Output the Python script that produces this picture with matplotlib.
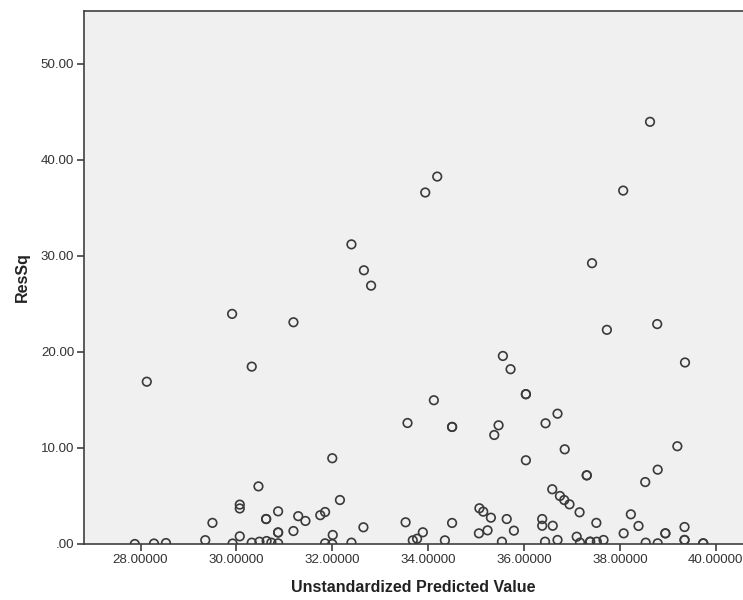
import numpy as np
import matplotlib
matplotlib.use('Agg')
import matplotlib.pyplot as plt
from matplotlib.ticker import FuncFormatter


# predicted values (x) and squared residuals (y)
pred_value = [27.88, 28.28, 28.53, 28.13, 29.35, 29.50, 29.92, 29.91, 30.07, 30.07,
              30.07, 30.32, 30.32, 30.46, 30.48, 30.62, 30.62, 30.63, 30.73, 30.87,
              30.87, 30.87, 30.87, 31.19, 31.19, 31.29, 31.44, 31.75, 31.85, 31.85,
              32.00, 32.01, 32.00, 32.16, 32.40, 32.40, 32.65, 32.66, 32.81, 33.53,
              33.57, 33.68, 33.77, 33.89, 33.94, 34.19, 34.12, 34.35, 34.50, 34.50,
              34.50, 35.06, 35.07, 35.15, 35.24, 35.31, 35.38, 35.47, 35.54, 35.56,
              35.64, 35.72, 35.79, 36.04, 36.04, 36.04, 36.38, 36.38, 36.44, 36.45,
              36.59, 36.60, 36.70, 36.70, 36.75, 36.84, 36.85, 36.95, 37.10, 37.16,
              37.17, 37.31, 37.31, 37.38, 37.38, 37.42, 37.51, 37.52, 37.66, 37.73,
              38.07, 38.08, 38.23, 38.39, 38.53, 38.54, 38.63, 38.78, 38.79, 38.79,
              38.95, 38.95, 39.20, 39.35, 39.35, 39.35, 39.36, 39.74, 39.74]
res_sq = [0.00, 0.05, 0.10, 16.90, 0.40, 2.20, 0.05, 23.96, 4.10, 3.70,
          0.80, 18.47, 0.14, 6.00, 0.24, 2.60, 2.60, 0.31, 0.14, 0.07,
          3.40, 1.20, 1.20, 1.35, 23.09, 2.90, 2.40, 3.00, 3.33, 0.07,
          0.00, 0.94, 8.93, 4.58, 0.14, 31.20, 1.74, 28.50, 26.90, 2.26,
          12.60, 0.38, 0.55, 1.22, 36.60, 38.26, 14.97, 0.38, 2.19, 12.19,
          12.19, 1.11, 3.72, 3.37, 1.42, 2.74, 11.35, 12.36, 0.24, 19.58,
          2.60, 18.20, 1.39, 15.60, 15.60, 8.72, 2.60, 1.90, 0.24, 12.57,
          5.70, 1.90, 0.42, 13.57, 5.00, 4.58, 9.86, 4.13, 0.76, 3.30,
          0.14, 7.15, 7.15, 0.24, 0.24, 29.24, 2.20, 0.24, 0.42, 22.30,
          36.80, 1.11, 3.09, 1.88, 6.45, 0.14, 43.96, 22.90, 7.74, 0.07,
          1.11, 1.11, 10.18, 1.77, 0.42, 0.42, 18.90, 0.07, 0.07]

x_ticks = [28, 30, 32, 34, 36, 38, 40]
y_ticks = [0, 10, 20, 30, 40, 50]

plt.rcParams['font.family'] = ['Liberation Sans', 'DejaVu Sans']

fig = plt.figure(figsize=(7.43, 6.0), dpi=100)
ax = fig.add_axes([84 / 743, 56 / 600, 659 / 743, 533 / 600])
ax.set_facecolor('#f0f0f0')

ax.scatter(pred_value, res_sq, s=38, facecolors='none', edgecolors='#3a3a3a',
           linewidths=1.2, zorder=3)

ax.set_xlim(26.82, 40.57)
ax.set_ylim(0, 55.5)
ax.set_xticks(x_ticks)
ax.set_yticks(y_ticks)
ax.xaxis.set_major_formatter(FuncFormatter(lambda v, p: '%.5f' % v))
# SPSS style: zero is shown as ".00"
ax.yaxis.set_major_formatter(FuncFormatter(lambda v, p: '.00' if v == 0 else '%.2f' % v))

for side in ['left', 'top', 'bottom']:
    ax.spines[side].set_color('#404040')
    ax.spines[side].set_linewidth(1.2)
ax.spines['right'].set_visible(False)
ax.tick_params(axis='both', direction='out', length=5, width=1.2, color='#404040',
               labelsize=9.6, labelcolor='#333333', pad=2)

ax.set_xlabel('Unstandardized Predicted Value', fontsize=11.5, fontweight='bold',
              color='#222222', labelpad=10)
ax.set_ylabel('ResSq', fontsize=11.5, fontweight='bold', color='#222222', labelpad=8)

fig.savefig('out.png', dpi=100, facecolor='white')
